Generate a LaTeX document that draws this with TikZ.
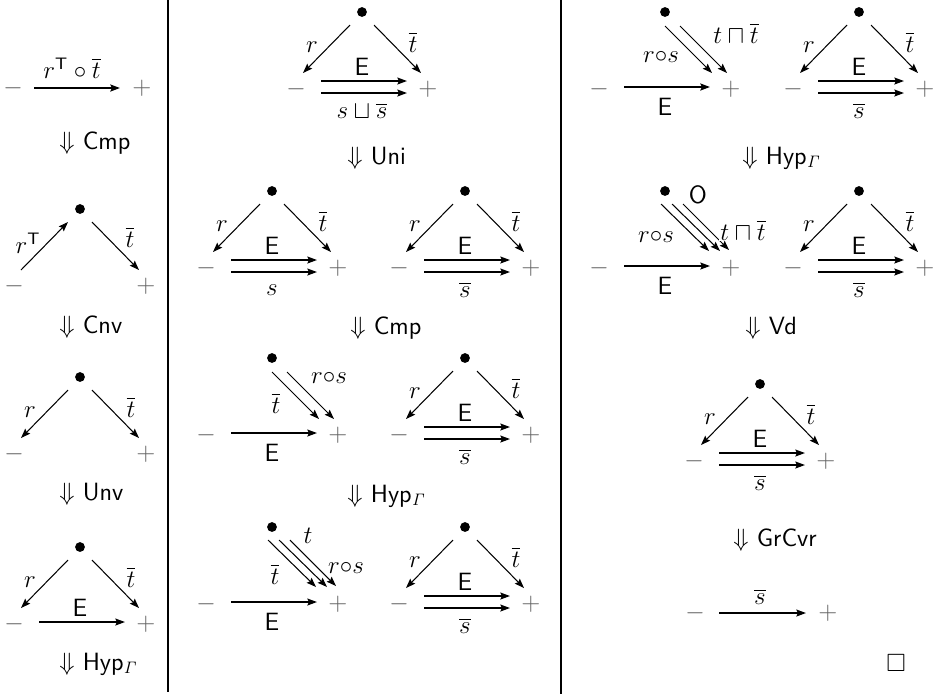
\documentclass[tikz,border=0pt]{standalone}
\usepackage{amssymb}
\usetikzlibrary{arrows.meta,calc}
\definecolor{pmgray}{gray}{0.38}
\tikzset{
  dotn/.style={circle,fill=black,inner sep=0pt,minimum size=4.7pt},
  pm/.style={text=pmgray,inner sep=0pt},
  lab/.style={inner sep=1pt},
  arr/.style={line width=0.5pt,-{Stealth[length=4.6pt,width=3.3pt,inset=0.7pt]}},
  harr/.style={line width=0.75pt,-{Stealth[length=4.6pt,width=3.3pt,inset=0.7pt]}},
  tharr/.style={line width=1.1pt,-{Stealth[length=4.6pt,width=3.3pt,inset=0.7pt]}},
  rulelab/.style={anchor=west,inner sep=0pt},
  cover/.style={fill=white,inner sep=0.6pt},
  sep/.style={line width=1pt}
}
\newcommand\Base[3]{%
  \node[dotn] (#3d) at (#1,#2) {};
  \node[pm] (#3m) at ($(#3d)+(-66,77)$) {$-$};
  \node[pm] (#3p) at ($(#3d)+(66,77)$) {$+$};}
\newcommand\Legs[1]{%
  \draw[arr] ($(#1d)+(-12,13)$) -- ($(#1d)+(-59,61)$);
  \draw[arr] ($(#1d)+(12,13)$) -- ($(#1d)+(59,61)$);
  \node[lab] (#1r) at ($(#1d)+(-50,35)$) {$r$};
  \node[lab] (#1t) at ($(#1d)+(51,30)$) {$\overline{t}$};}
\newcommand\Dbl[2]{%
  \draw[harr] ($(#1d)+(-41,69)$) -- ($(#1d)+(45,69)$);
  \draw[harr] ($(#1d)+(-41,81)$) -- ($(#1d)+(45,81)$);
  \node[lab] (#1e) at ($(#1d)+(0,55)$) {\textsf{E}};
  \node[lab] (#1l) at ($(#1d)+(0,99)$) {#2};}
\newcommand\Sgl[2]{%
  \draw[#2] ($(#1d)+(-41,75)$) -- ($(#1d)+(45,75)$);
  \node[lab] (#1e) at ($(#1d)+(0,95)$) {\textsf{E}};}
\newcommand\Two[1]{%
  \draw[arr] ($(#1d)+(0,14)$) -- ($(#1d)+(47,61)$);
  \draw[arr] ($(#1d)+(15,14)$) -- ($(#1d)+(62,61)$);}
\newcommand\Three[1]{%
  \draw[arr] ($(#1d)+(-4,13)$) -- ($(#1d)+(44,60)$);
  \draw[arr] ($(#1d)+(7,13)$) -- ($(#1d)+(55,60)$);
  \draw[arr] ($(#1d)+(18,13)$) -- ($(#1d)+(64,59)$);}
\begin{document}
\begin{tikzpicture}[x=0.48pt,y=-0.48pt,font=\fontsize{12}{14}\selectfont]
\useasboundingbox (0,0) rectangle (945,698);
% separators
\coordinate (s1a) at (168,0); \coordinate (s1b) at (168,692);
\coordinate (s2a) at (561,0); \coordinate (s2b) at (561,694);
\draw[sep] (s1a) -- (s1b);
\draw[sep] (s2a) -- (s2b);

% ---------- column 1 ----------
\node[pm] (a1m) at (13,88) {$-$};
\node[pm] (a1p) at (142,88) {$+$};
\draw[tharr] ($(a1m)+(21,0)$) -- ($(a1p)+(-22,0)$);
\node[lab] (a1l) at (72,68) {$r^{\mathsf{T}}\circ\overline{t}$};
\node[rulelab] (ra1) at (59,143) {$\Downarrow$ \textsf{Cmp}};

\Base{80}{209}{a2}
\draw[arr] ($(a2d)+(-59,61)$) -- ($(a2d)+(-12,13)$);
\draw[arr] ($(a2d)+(12,13)$) -- ($(a2d)+(59,61)$);
\node[lab] (a2r) at ($(a2d)+(-52,34)$) {$r^{\mathsf{T}}$};
\node[lab] (a2t) at ($(a2d)+(50,28)$) {$\overline{t}$};
\node[rulelab] (ra2) at (59,327) {$\Downarrow$ \textsf{Cnv}};

\Base{80}{377}{a3}
\Legs{a3}
\node[rulelab] (ra3) at (59,494) {$\Downarrow$ \textsf{Unv}};

\Base{80}{547}{a4}
\Legs{a4}
\draw[harr] ($(a4d)+(-41,75)$) -- ($(a4d)+(45,75)$);
\node[lab] (a4e) at ($(a4d)+(0,61)$) {\textsf{E}};
\node[rulelab] (ra4) at (59,664) {$\Downarrow$ \textsf{Hyp}$_{\mathit{\Gamma}}$};

% ---------- column 2 ----------
\Base{362}{12}{b1}
\Legs{b1}
\Dbl{b1}{$s\sqcup\overline{s}$}
\node[rulelab] (rb1) at (347,158) {$\Downarrow$ \textsf{Uni}};

\Base{272}{191}{b2l}
\Legs{b2l}
\Dbl{b2l}{$s$}
\Base{465}{191}{b2r}
\Legs{b2r}
\Dbl{b2r}{$\overline{s}$}
\node[rulelab] (rb2) at (350,328) {$\Downarrow$ \textsf{Cmp}};

\Base{272}{358}{b3l}
\Two{b3l}
\node[lab] (b3lt) at ($(b3ld)+(4,45)$) {$\overline{t}$};
\node[lab] (b3lrs) at ($(b3ld)+(57,20)$) {$r{\circ}s$};
\Sgl{b3l}{harr}
\Base{465}{358}{b3r}
\Legs{b3r}
\Dbl{b3r}{$\overline{s}$}
\node[rulelab] (rb3) at (347,496) {$\Downarrow$ \textsf{Hyp}$_{\mathit{\Gamma}}$};

\Base{272}{527}{b4l}
\Three{b4l}
\node[lab] (b4lt) at ($(b4ld)+(3,47)$) {$\overline{t}$};
\node[lab] (b4lu) at ($(b4ld)+(36,9)$) {$t$};
\node[cover] (b4lrs) at ($(b4ld)+(74,41)$) {$r{\circ}s$};
\Sgl{b4l}{harr}
\Base{465}{527}{b4r}
\Legs{b4r}
\Dbl{b4r}{$\overline{s}$}

% ---------- column 3 ----------
\Base{665}{12}{c1l}
\Two{c1l}
\node[lab] (c1lrs) at ($(c1ld)+(-4,45)$) {$r{\circ}s$};
\node[lab] (c1ltt) at ($(c1ld)+(71,21)$) {$t\sqcap\overline{t}$};
\Sgl{c1l}{tharr}
\Base{859}{12}{c1r}
\Legs{c1r}
\Dbl{c1r}{$\overline{s}$}
\node[rulelab] (rc1) at (742,158) {$\Downarrow$ \textsf{Hyp}$_{\mathit{\Gamma}}$};

\Base{665}{191}{c2l}
\Three{c2l}
\node[lab] (c2lo) at ($(c2ld)+(33,4)$) {\textsf{O}};
\node[lab] (c2lrs) at ($(c2ld)+(-9,46)$) {$r{\circ}s$};
\node[cover] (c2ltt) at ($(c2ld)+(78,39)$) {$t\sqcap\overline{t}$};
\Sgl{c2l}{harr}
\Base{859}{191}{c2r}
\Legs{c2r}
\Dbl{c2r}{$\overline{s}$}
\node[rulelab] (rc2) at (745,328) {$\Downarrow$ \textsf{Vd}};

\Base{760}{384}{c3}
\Legs{c3}
\Dbl{c3}{$\overline{s}$}
\node[rulelab] (rc3) at (733,540) {$\Downarrow$ \textsf{GrCvr}};

\node[pm] (c4m) at (695,613) {$-$};
\node[pm] (c4p) at (828,613) {$+$};
\draw[harr] ($(c4m)+(24,0)$) -- ($(c4p)+(-22,0)$);
\node[lab] (c4l) at (760,597) {$\overline{s}$};

\node[inner sep=0pt] (qed) at (896,663) {$\square$};
\end{tikzpicture}
\end{document}
